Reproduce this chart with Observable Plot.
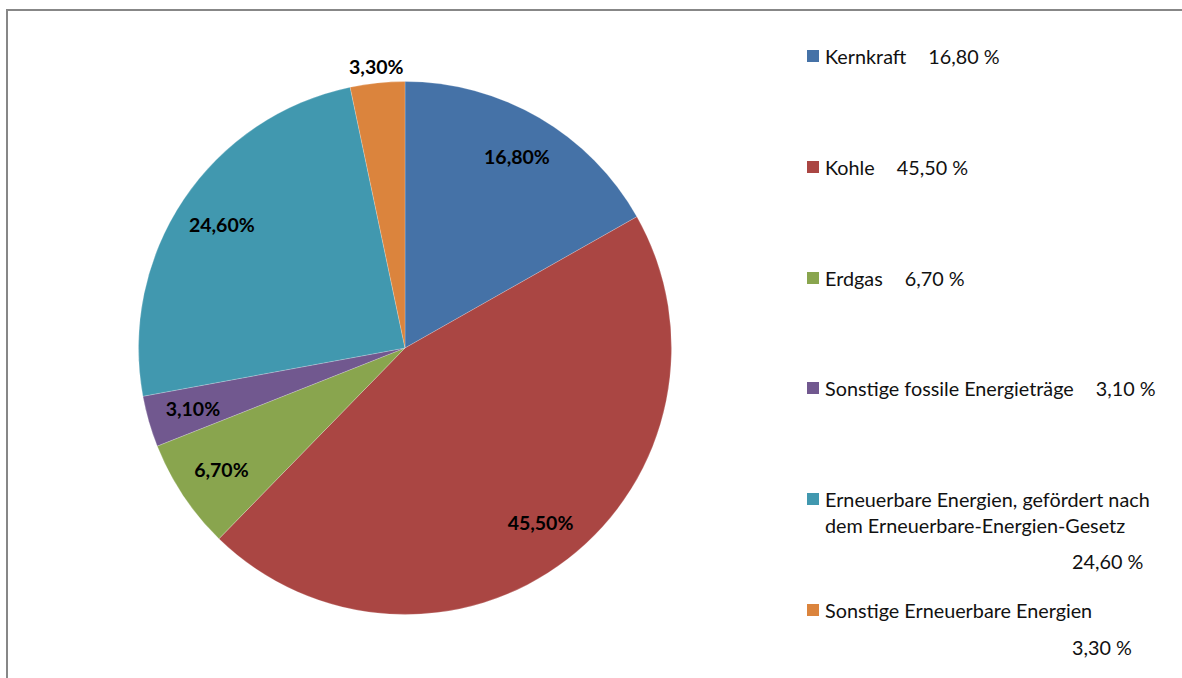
<!DOCTYPE html>
<html>
<head>
<meta charset="utf-8">
<script src="https://cdn.jsdelivr.net/npm/d3@7"></script>
<script src="https://cdn.jsdelivr.net/npm/@observablehq/plot@0.6"></script>
<style>
  body { margin: 0; background: #fff; }
  #wrap { position: relative; width: 1182px; height: 678px; overflow: hidden; font-family: Lato, "Open Sans", sans-serif; color: #111; }
  #frame { position: absolute; left: 6px; top: 9px; width: 1300px; height: 800px; border-left: 2px solid #878787; border-top: 2px solid #878787; pointer-events: none; }
  #chart { position: absolute; left: 0; top: 0; }
  .sw { position: absolute; width: 12px; height: 12px; }
  .lab { position: absolute; font-size: 19.8px; line-height: 26px; white-space: nowrap; }
  .pct { margin-left: 22px; }
</style>
</head>
<body>
<div id="wrap">
  <div id="chart"></div>
  <div id="legend"></div>
  <div id="frame"></div>
</div>
<script>
// ---- data ----
const categories = [
  "Kernkraft",
  "Kohle",
  "Erdgas",
  "Sonstige fossile Energieträge",
  "Erneuerbare Energien, gefördert nach dem Erneuerbare-Energien-Gesetz",
  "Sonstige Erneuerbare Energien"
];
const values = [16.8, 45.5, 6.7, 3.1, 24.6, 3.3];
const colors = ["#4572A7", "#AA4643", "#89A54E", "#71588F", "#4198AF", "#DB843D"];
const labelOutside = [false, false, false, false, false, true];

// ---- helpers ----
const fmtSlice = v => v.toFixed(2).replace(".", ",") + "%";
const fmtLegend = v => v.toFixed(2).replace(".", ",") + " %";

const data = categories.map((c, i) => ({category: c, value: values[i], outside: labelOutside[i]}));
const arcs = d3.pie().sort(null).value(d => d.value)(data);
const labelData = arcs.map(a => {
  const mid = (a.startAngle + a.endAngle) / 2;
  const k = a.data.outside ? 1.06 : 0.83;
  return {lx: k * Math.sin(mid), ly: k * Math.cos(mid), text: fmtSlice(a.data.value)};
});

const color = Plot.scale({color: {type: "ordinal", domain: categories, range: colors}});

// custom mark: pie slices positioned by the x/y scales
function pieSlices(index, scales) {
  const cx = scales.x(0), cy = scales.y(0);
  const r = Math.abs(scales.x(1) - scales.x(0));
  const arc = d3.arc().innerRadius(0).outerRadius(r);
  const g = d3.create("svg:g").attr("transform", `translate(${cx},${cy})`);
  g.selectAll("path").data(arcs).join("path")
    .attr("d", arc)
    .attr("fill", d => color.apply(d.data.category))
    .attr("stroke", "#ffffff")
    .attr("stroke-opacity", 0.35)
    .attr("stroke-width", 0.6);
  return g.node();
}

const R = 266.5, CX = 405, CY = 348;
const plot = Plot.plot({
  width: 1182,
  height: 678,
  margin: 0,
  x: {domain: [-1, 1], range: [CX - R, CX + R], axis: null},
  y: {domain: [-1, 1], range: [CY + R, CY - R], axis: null},
  style: {fontFamily: "Lato, 'Open Sans', sans-serif", background: "transparent"},
  marks: [
    pieSlices,
    Plot.text(labelData, {x: "lx", y: "ly", text: "text", fontWeight: "bold", fontSize: 19.5, fill: "#000"})
  ]
});
document.getElementById("chart").appendChild(plot);

// ---- legend ----
const legend = document.getElementById("legend");
const legTop = 56, legStep = 110.8;
const wrapOffsets = {4: 62, 5: 37};
categories.forEach((c, i) => {
  const y = legTop + i * legStep;
  const sw = document.createElement("div");
  sw.className = "sw";
  sw.style.left = "807px";
  sw.style.top = (y - 6) + "px";
  sw.style.background = color.apply(c);
  legend.appendChild(sw);

  const lab = document.createElement("div");
  lab.className = "lab";
  lab.style.left = "825px";
  lab.style.top = (y - 13) + "px";
  if (i === 4) {
    const parts = c.split(" dem ");
    lab.appendChild(document.createTextNode(parts[0]));
    lab.appendChild(document.createElement("br"));
    lab.appendChild(document.createTextNode("dem " + parts[1]));
  } else {
    lab.textContent = c;
  }
  if (wrapOffsets[i] === undefined) {
    const p = document.createElement("span");
    p.className = "pct";
    p.textContent = fmtLegend(values[i]);
    lab.appendChild(p);
  } else {
    const p = document.createElement("div");
    p.className = "lab";
    p.style.left = "1072px";
    p.style.top = (y + wrapOffsets[i] - 13) + "px";
    p.textContent = fmtLegend(values[i]);
    legend.appendChild(p);
  }
  legend.appendChild(lab);
});
</script>
</body>
</html>
